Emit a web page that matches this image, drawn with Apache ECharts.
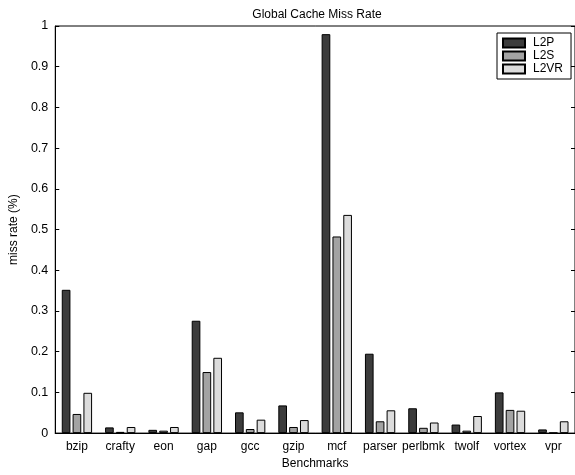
<!DOCTYPE html>
<html>
<head>
<meta charset="utf-8">
<script src="https://cdn.jsdelivr.net/npm/echarts@6/dist/echarts.min.js"></script>
<style>html,body{margin:0;padding:0;background:#fff;}#c{width:575px;height:475px;}</style>
</head>
<body>
<div id="c"></div>
<script>
const categories = ['bzip','crafty','eon','gap','gcc','gzip','mcf','parser','perlbmk','twolf','vortex','vpr'];
const l2p  = [0.352, 0.014, 0.008, 0.276, 0.051, 0.068, 0.980, 0.195, 0.061, 0.021, 0.100, 0.009];
const l2s  = [0.047, 0.003, 0.006, 0.150, 0.010, 0.015, 0.483, 0.029, 0.013, 0.006, 0.057, 0.001];
const l2vr = [0.099, 0.015, 0.015, 0.185, 0.033, 0.032, 0.536, 0.056, 0.026, 0.042, 0.055, 0.029];
const yTicks = [0, 0.1, 0.2, 0.3, 0.4, 0.5, 0.6, 0.7, 0.8, 0.9, 1];

const font = 'Liberation Sans';
const chart = echarts.init(document.getElementById('c'), null, {renderer: 'canvas'});
function bar(name, data, color) {
  return {
    name: name, type: 'bar', data: data, xAxisIndex: 0, yAxisIndex: 0,
    barWidth: '20%', barGap: '25%',
    itemStyle: {color: color, borderColor: '#000', borderWidth: 1},
    emphasis: {disabled: true}
  };
}
chart.setOption({
  animation: false,
  textStyle: {fontFamily: font},
  title: {
    text: 'Global Cache Miss Rate', left: 312, textAlign: 'center', top: 4,
    textStyle: {fontFamily: font, fontSize: 12, fontWeight: 'normal', color: '#000'}
  },
  legend: {
    orient: 'vertical', left: 497, top: 33,
    padding: [4, 8, 4, 5], itemGap: 1, itemWidth: 22, itemHeight: 9,
    borderColor: '#000', borderWidth: 1, backgroundColor: '#fff',
    icon: 'rect',
    textStyle: {fontFamily: font, fontSize: 12, color: '#000', lineHeight: 12, padding: [0,0,0,3]},
    data: ['L2P', 'L2S', 'L2VR']
  },
  grid: {left: 47, right: -4, top: 26, bottom: 31, show: true, borderColor: '#000', borderWidth: 1, backgroundColor: 'transparent'},
  xAxis: [{
    type: 'category', data: categories, position: 'bottom',
    name: 'Benchmarks', nameLocation: 'middle', nameGap: 22,
    nameTextStyle: {fontFamily: font, fontSize: 12, color: '#000'},
    axisLine: {lineStyle: {color: '#000', width: 1}},
    axisTick: {inside: true, alignWithLabel: true, length: 4, lineStyle: {color: '#000'}},
    axisLabel: {fontFamily: font, fontSize: 12, color: '#000', margin: 8, interval: 0}
  }, {
    type: 'category', data: categories, position: 'top',
    axisLine: {lineStyle: {color: '#000', width: 1}},
    axisTick: {inside: true, alignWithLabel: true, length: 4, lineStyle: {color: '#000'}},
    axisLabel: {show: false}
  }],
  yAxis: [{
    type: 'value', min: 0, max: 1, interval: 0.1,
    name: 'miss rate (%)', nameLocation: 'middle', nameGap: 33, nameRotate: 90,
    nameTextStyle: {fontFamily: font, fontSize: 12, color: '#000'},
    axisLine: {show: true, lineStyle: {color: '#000', width: 1}},
    axisTick: {show: true, inside: true, length: 4, lineStyle: {color: '#000'}},
    axisLabel: {fontFamily: font, fontSize: 12.5, color: '#000', margin: 7,
      formatter: v => { const t = yTicks.find(x => Math.abs(x - v) < 1e-9); return t === undefined ? '' : String(t); }},
    splitLine: {show: false}
  }, {
    type: 'value', min: 0, max: 1, interval: 0.1, position: 'right',
    axisLine: {show: true, lineStyle: {color: '#000', width: 1}},
    axisTick: {show: true, inside: true, length: 4, lineStyle: {color: '#000'}},
    axisLabel: {show: false}, splitLine: {show: false}
  }],
  series: [
    bar('L2P', l2p, '#3c3c3c'),
    bar('L2S', l2s, '#a3a3a3'),
    bar('L2VR', l2vr, '#dcdcdc')
  ]
});
</script>
</body>
</html>
